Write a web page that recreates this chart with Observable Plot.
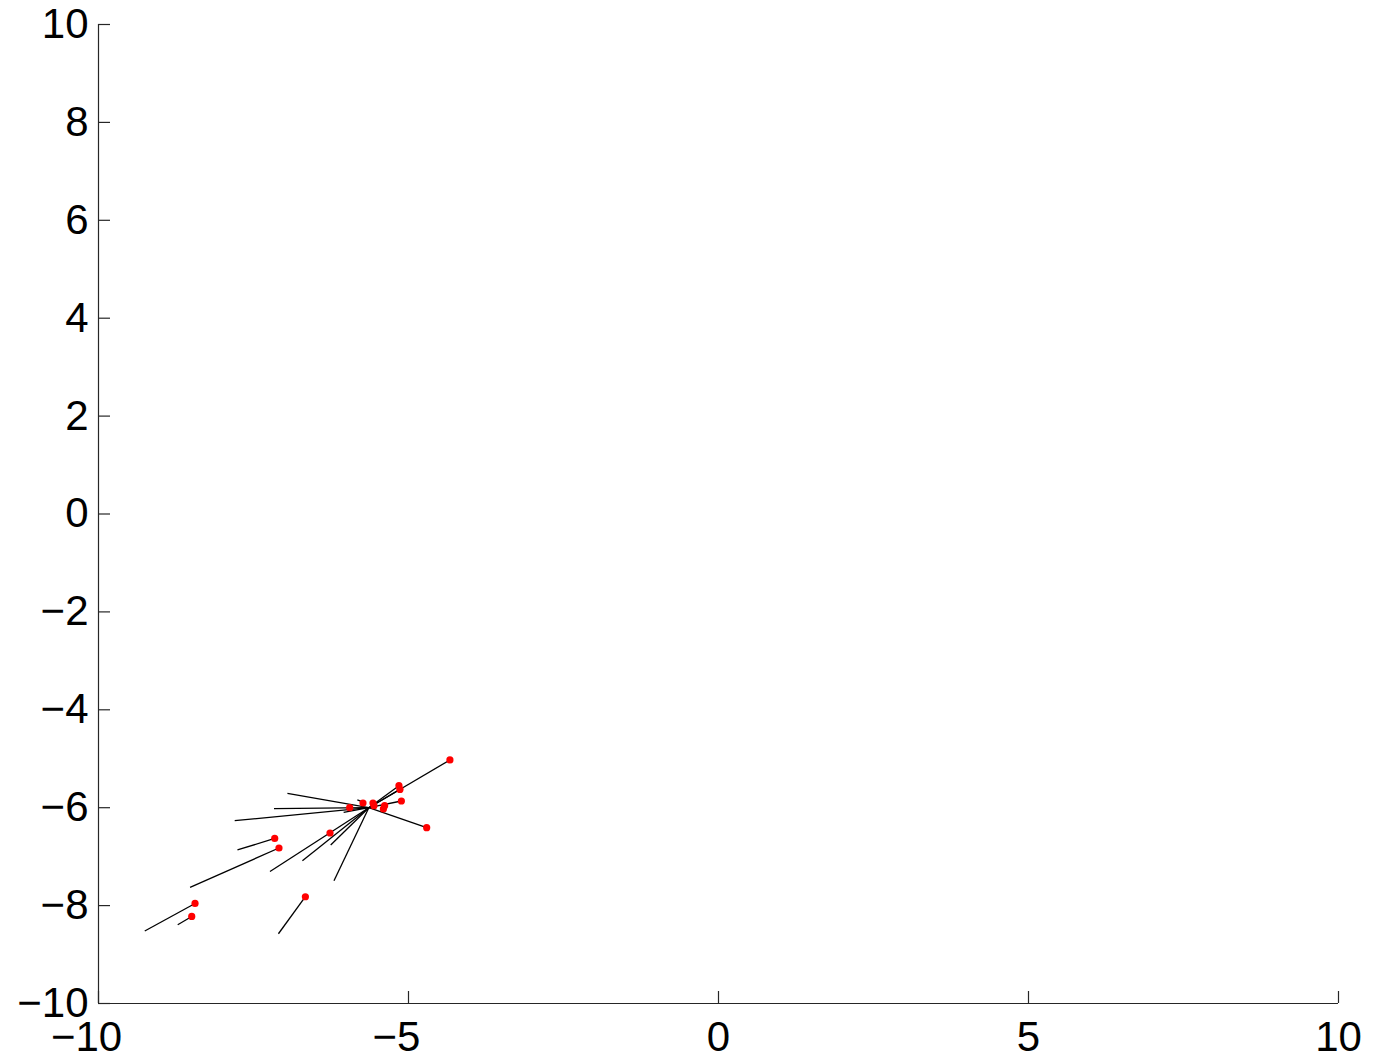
<!DOCTYPE html>
<html>
<head>
<meta charset="utf-8">
<script src="https://cdn.jsdelivr.net/npm/d3@7"></script>
<script src="https://cdn.jsdelivr.net/npm/@observablehq/plot@0.6"></script>
<style>
  html, body { margin: 0; padding: 0; background: #fff; }
  #chart svg { display: block; }
</style>
</head>
<body>
<div id="chart"></div>
<script>
// Tick values
const xTicks = [-10, -5, 0, 5, 10];
const yTicks = [-10, -8, -6, -4, -2, 0, 2, 4, 6, 8, 10];

// Red points (positions)
const dotX = [-4.332, -5.154, -5.138, -5.115, -4.707, -5.734, -5.573, -5.557, -5.385, -5.405, -5.949, -6.266, -7.158, -7.089, -8.443, -8.496, -6.663];
const dotY = [-5.025, -5.550, -5.626, -5.863, -6.408, -5.904, -5.904, -5.959, -5.959, -6.026, -6.000, -6.517, -6.627, -6.823, -7.956, -8.222, -7.819];

// Black line segments (start -> end)
const segX1 = [-5.64, -5.64, -5.64, -5.64, -5.64, -5.64, -5.64, -5.64, -5.64, -5.64, -5.64, -5.64, -5.64, -7.158, -7.089, -8.443, -8.496, -6.663, -5.825];
const segY1 = [-6.00, -6.00, -6.00, -6.00, -6.00, -6.00, -6.00, -6.00, -6.00, -6.00, -6.00, -6.00, -6.00, -6.627, -6.823, -7.956, -8.222, -7.819, -5.840];
const segX2 = [-4.332, -5.154, -5.138, -5.115, -4.707, -6.953, -7.169, -7.803, -7.234, -6.711, -6.255, -6.202, -6.046, -7.759, -8.523, -9.254, -8.722, -7.098, -5.720];
const segY2 = [-5.025, -5.550, -5.626, -5.863, -6.408, -5.707, -6.020, -6.265, -7.302, -7.083, -6.762, -7.492, -6.096, -6.864, -7.629, -8.520, -8.391, -8.575, -5.890];

const dots = dotX.map((x, i) => ({x, y: dotY[i]}));
const segs = segX1.map((x1, i) => ({x1, y1: segY1[i], x2: segX2[i], y2: segY2[i]}));

const fmt = d => (d < 0 ? "\u2212" + Math.abs(d) : String(d));
const axisColor = "#262626";
const font = "'Liberation Sans', Arial, Helvetica, sans-serif";

const chart = Plot.plot({
  width: 1374,
  height: 1059,
  marginLeft: 98,
  marginRight: 36,
  marginTop: 24,
  marginBottom: 56,
  style: {background: "#fff", fontFamily: font},
  x: {domain: [-10, 10], axis: null},
  y: {domain: [-10, 10], axis: null},
  marks: [
    // axis lines
    Plot.ruleX([-10], {x: d => d, y1: -10, y2: 10, stroke: axisColor, strokeWidth: 1.2}),
    Plot.ruleY([-10], {y: d => d, x1: -10, x2: 10, stroke: axisColor, strokeWidth: 1.2}),
    // inward ticks
    Plot.ruleX(xTicks, {x: d => d, y1: -10, y2: -10, insetBottom: 12, stroke: axisColor, strokeWidth: 1.2}),
    Plot.ruleY(yTicks, {y: d => d, x1: -10, x2: -10, insetRight: -12, stroke: axisColor, strokeWidth: 1.2}),
    // x tick labels (negative ones hang the minus sign to the left)
    Plot.text(xTicks.filter(d => d < 0), {x: d => d, y: -10, text: fmt, lineAnchor: "middle", dy: 34, dx: -12, fontSize: 42, fill: "#000", textAnchor: "middle"}),
    Plot.text(xTicks.filter(d => d >= 0), {x: d => d, y: -10, text: fmt, lineAnchor: "middle", dy: 34, fontSize: 42, fill: "#000", textAnchor: "middle"}),
    // y tick labels
    Plot.text(yTicks, {x: -10, y: d => d, text: fmt, lineAnchor: "middle", dx: -10, fontSize: 42, fill: "#000", textAnchor: "end"}),
    // data
    Plot.link(segs, {x1: "x1", y1: "y1", x2: "x2", y2: "y2", stroke: "#000", strokeWidth: 1.3}),
    Plot.dot(dots, {x: "x", y: "y", r: 3.6, fill: "#ff0000", stroke: "none"})
  ]
});

document.getElementById("chart").appendChild(chart);
</script>
</body>
</html>
